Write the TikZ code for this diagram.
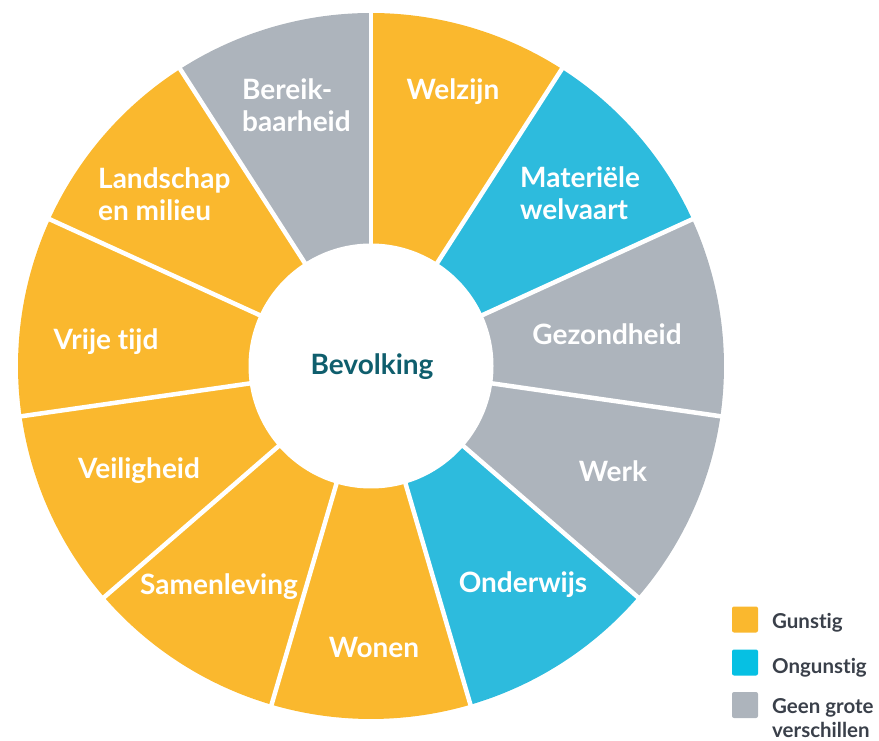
\documentclass[tikz,border=0pt]{standalone}
\usepackage{fontspec}
\setmainfont{Lato}[Ligatures=NoCommon]
\usepackage{xcolor}
\usepackage{tikz}
\usetikzlibrary{
    positioning,
    calc
}
\definecolor{chartOrange}{HTML}{FAB82E}
\definecolor{chartBlue}{HTML}{2DBBDD}
\definecolor{chartGray}{HTML}{ADB4BC}
\definecolor{legendBlue}{HTML}{06C0E3}
\definecolor{centerTeal}{HTML}{0F5E6D}
\definecolor{legendText}{HTML}{3A404A}

\begin{document}
\begin{tikzpicture}[x=1pt, y=1pt,
        segtext/.style={text=white, inner sep=0pt, align=left,
            font=\bfseries\fontsize{28}{32.5}\selectfont},
        legbox/.style={minimum size=26pt, inner sep=0pt, rounded corners=2pt},
        legtext/.style={text=legendText, inner sep=0pt, align=left, anchor=base west,
            font=\bfseries\fontsize{20.5}{24}\selectfont}]
            \useasboundingbox (0,0) rectangle (879,740);
            \coordinate (O) at (371,374);
            
            % ring of eleven segments, clockwise from the top
            \foreach \col [count=\i from 0] in {chartOrange, chartBlue, chartGray, chartGray,
                chartBlue, chartOrange, chartOrange, chartOrange, chartOrange, chartOrange, chartGray} {
                \pgfmathsetmacro\aStart{90-\i*360/11}
                \pgfmathsetmacro\aEnd{90-(\i+1)*360/11}
                \fill[\col] (O) -- ++(\aStart:353) arc[start angle=\aStart, end angle=\aEnd, radius=353] -- cycle;
            }
            \foreach \i in {0,...,10} {
                \draw[white, line width=4.5pt] (O) -- ++({90-\i*360/11}:356);
            }
            \fill[white] (O) circle (122.5);
            
            \node[text=centerTeal, inner sep=0pt, anchor=base,
                font=\bfseries\fontsize{28}{32.5}\selectfont] (bevolking) at (372,365) {Bevolking};
            
            \node[segtext, anchor=base] (welzijn) at (453,640) {Welzijn};
            \node[segtext, anchor=base west] (welvaart) at (520,520) {Materiële\\welvaart};
            \node[segtext, anchor=base] (gezondheid) at (607,395) {Gezondheid};
            \node[segtext, anchor=base] (werk) at (613,258) {Werk};
            \node[segtext, anchor=base] (onderwijs) at (523,147) {Onderwijs};
            \node[segtext, anchor=base] (wonen) at (374,83) {Wonen};
            \node[segtext, anchor=base] (samenleving) at (219,146) {Samenleving};
            \node[segtext, anchor=base] (veiligheid) at (139,261) {Veiligheid};
            \node[segtext, anchor=base] (vrijetijd) at (106,390) {Vrije tijd};
            \node[segtext, anchor=base west] (landschap) at (98,519) {Landschap\\en milieu};
            \node[segtext, anchor=base west] (bereik) at (242,608) {Bereik-\\baarheid};
            
            % legend
            \node[legbox, fill=chartOrange] (gunstigBox) at (745,120.5) {};
            \node[legbox, fill=legendBlue] (ongunstigBox) at (745,77.5) {};
            \node[legbox, fill=chartGray] (geenBox) at (745,35) {};
            \node[legtext] (gunstig) at (772,112) {Gunstig};
            \node[legtext] (ongunstig) at (772,67) {Ongunstig};
            \node[legtext] (geen) at (772,3) {Geen grote\\verschillen};
        \end{tikzpicture}
\end{document}
